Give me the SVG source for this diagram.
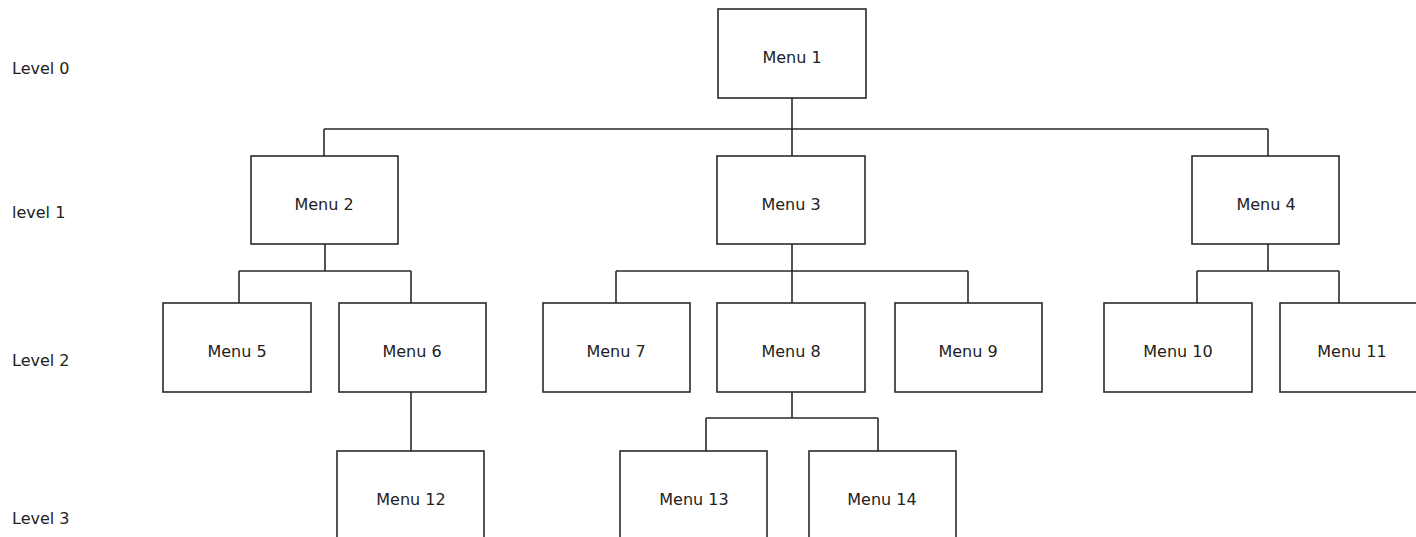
<svg xmlns="http://www.w3.org/2000/svg" width="1416" height="537" viewBox="0 0 1416 537">
<style>
.box{fill:#fff;stroke:#2a2a2a;stroke-width:1.6}
.t{font-family:"DejaVu Sans",sans-serif;font-size:16px;fill:#222;text-anchor:middle}
.lv{font-family:"DejaVu Sans",sans-serif;font-size:16px;fill:#222}
.c{fill:none;stroke:#2a2a2a;stroke-width:1.6}
</style>
<rect width="1416" height="537" fill="#fff"/>
<g id="levels">
<text class="lv" x="12" y="74">Level 0</text>
<text class="lv" x="12" y="218">level 1</text>
<text class="lv" x="12" y="366">Level 2</text>
<text class="lv" x="12" y="524">Level 3</text>
</g>
<g id="connectors">
<path class="c" d="M792 98V156M324 129H1268M324 129V156M1268 129V156"/>
<path class="c" d="M325 244V271M239 271H411M239 271V303M411 271V303"/>
<path class="c" d="M792 244V303M616 271H968M616 271V303M968 271V303"/>
<path class="c" d="M1268 244V271M1197 271H1339M1197 271V303M1339 271V303"/>
<path class="c" d="M411 391V451"/>
<path class="c" d="M792 391V418M706 418H878M706 418V451M878 418V451"/>
</g>
<g id="menu1"><rect class="box" x="718" y="9" width="148" height="89"/><text class="t" x="792" y="63">Menu 1</text></g>
<g id="menu2"><rect class="box" x="251" y="156" width="147" height="88"/><text class="t" x="324" y="210">Menu 2</text></g>
<g id="menu3"><rect class="box" x="717" y="156" width="148" height="88"/><text class="t" x="791" y="210">Menu 3</text></g>
<g id="menu4"><rect class="box" x="1192" y="156" width="147" height="88"/><text class="t" x="1266" y="210">Menu 4</text></g>
<g id="menu5"><rect class="box" x="163" y="303" width="148" height="89"/><text class="t" x="237" y="357">Menu 5</text></g>
<g id="menu6"><rect class="box" x="339" y="303" width="147" height="89"/><text class="t" x="412" y="357">Menu 6</text></g>
<g id="menu7"><rect class="box" x="543" y="303" width="147" height="89"/><text class="t" x="616" y="357">Menu 7</text></g>
<g id="menu8"><rect class="box" x="717" y="303" width="148" height="89"/><text class="t" x="791" y="357">Menu 8</text></g>
<g id="menu9"><rect class="box" x="895" y="303" width="147" height="89"/><text class="t" x="968" y="357">Menu 9</text></g>
<g id="menu10"><rect class="box" x="1104" y="303" width="148" height="89"/><text class="t" x="1178" y="357">Menu 10</text></g>
<g id="menu11"><rect class="box" x="1280" y="303" width="147" height="89"/><text class="t" x="1352" y="357">Menu 11</text></g>
<g id="menu12"><rect class="box" x="337" y="451" width="147" height="100"/><text class="t" x="411" y="505">Menu 12</text></g>
<g id="menu13"><rect class="box" x="620" y="451" width="147" height="100"/><text class="t" x="694" y="505">Menu 13</text></g>
<g id="menu14"><rect class="box" x="809" y="451" width="147" height="100"/><text class="t" x="882" y="505">Menu 14</text></g>
</svg>
